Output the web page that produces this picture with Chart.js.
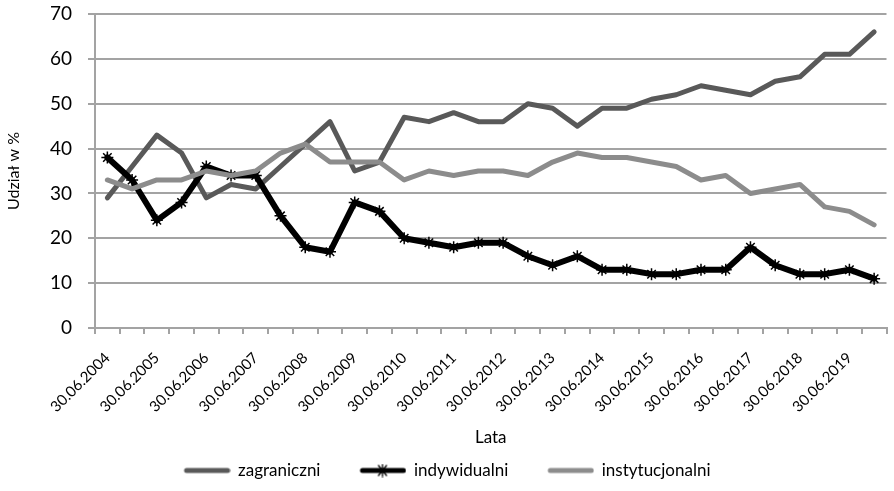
<!DOCTYPE html>
<html>
<head>
<meta charset="utf-8">
<script src="https://cdn.jsdelivr.net/npm/chart.js@4.4.1/dist/chart.umd.min.js"></script>
<style>
html, body { margin: 0; padding: 0; background: #fff; }
#wrap { width: 894px; height: 491px; position: relative; }
</style>
</head>
<body>
<div id="wrap"><canvas id="chart"></canvas></div>
<script>
// categories (half-yearly), only 30.06 labels are shown on the axis
const dates = [
  '30.06.2004', '31.12.2004', '30.06.2005', '31.12.2005', '30.06.2006', '31.12.2006',
  '30.06.2007', '31.12.2007', '30.06.2008', '31.12.2008', '30.06.2009', '31.12.2009',
  '30.06.2010', '31.12.2010', '30.06.2011', '31.12.2011', '30.06.2012', '31.12.2012',
  '30.06.2013', '31.12.2013', '30.06.2014', '31.12.2014', '30.06.2015', '31.12.2015',
  '30.06.2016', '31.12.2016', '30.06.2017', '31.12.2017', '30.06.2018', '31.12.2018',
  '30.06.2019', '31.12.2019'
];

const zagraniczni = [29, 36, 43, 39, 29, 32, 31, 36, 41, 46, 35, 37, 47, 46, 48, 46,
  46, 50, 49, 45, 49, 49, 51, 52, 54, 53, 52, 55, 56, 61, 61, 66];
const indywidualni = [38, 33, 24, 28, 36, 34, 34, 25, 18, 17, 28, 26, 20, 19, 18, 19,
  19, 16, 14, 16, 13, 13, 12, 12, 13, 13, 18, 14, 12, 12, 13, 11];
const instytucjonalni = [33, 31, 33, 33, 35, 34, 35, 39, 41, 37, 37, 37, 33, 35, 34, 35,
  35, 34, 37, 39, 38, 38, 37, 36, 33, 34, 30, 31, 32, 27, 26, 23];

const yTicks = [0, 10, 20, 30, 40, 50, 60, 70];

const FONT = 'Lato';
const gridColor = '#a3a3a3';

// legend pictures: thick line, optional star marker
function legendImg(color, marker) {
  const c = document.createElement('canvas');
  c.width = 48; c.height = 14;
  const g = c.getContext('2d');
  g.strokeStyle = color;
  g.lineWidth = 5;
  g.lineCap = 'round';
  g.beginPath(); g.moveTo(4, 7); g.lineTo(45, 7); g.stroke();
  if (marker) {
    g.strokeStyle = '#000';
    g.lineWidth = 1.3;
    g.beginPath();
    g.moveTo(20, 2); g.lineTo(28, 12);
    g.moveTo(28, 2); g.lineTo(20, 12);
    g.moveTo(24, 1); g.lineTo(24, 13);
    g.stroke();
  }
  return c;
}
const legendPics = [legendImg('#595959', false), legendImg('#000', true), legendImg('#8c8c8c', false)];

const ctx = document.getElementById('chart').getContext('2d');
new Chart(ctx, {
  type: 'line',
  data: {
    labels: dates,
    datasets: [{
      label: 'zagraniczni',
      data: zagraniczni,
      borderColor: '#595959',
      backgroundColor: '#595959',
      borderWidth: 5,
      pointRadius: 0,
      order: 3
    }, {
      label: 'indywidualni',
      data: indywidualni,
      borderColor: '#000',
      backgroundColor: '#000',
      borderWidth: 6,
      pointStyle: 'star',
      pointRadius: 6,
      pointBorderWidth: 1.5,
      pointBorderColor: '#000',
      order: 2
    }, {
      label: 'instytucjonalni',
      data: instytucjonalni,
      borderColor: '#8c8c8c',
      backgroundColor: '#8c8c8c',
      borderWidth: 5,
      pointRadius: 0,
      order: 1
    }]
  },
  options: {
    responsive: true,
    maintainAspectRatio: false,
    animation: false,
    layout: { padding: { top: 14, right: 0, left: 0, bottom: 2 } },
    elements: {
      line: { tension: 0, borderJoinStyle: 'round', borderCapStyle: 'round' }
    },
    plugins: {
      tooltip: { enabled: false },
      legend: {
        position: 'bottom',
        labels: {
          usePointStyle: true,
          pointStyleWidth: 46,
          boxHeight: 14,
          padding: 39,
          color: '#000',
          font: { family: FONT, size: 17 },
          sort: (a, b) => a.datasetIndex - b.datasetIndex,
          generateLabels: chart => {
            const items = Chart.defaults.plugins.legend.labels.generateLabels(chart);
            items.forEach(it => { it.pointStyle = legendPics[it.datasetIndex]; });
            return items;
          }
        }
      }
    },
    scales: {
      x: {
        offset: true,
        grid: { drawOnChartArea: false, offset: true, tickLength: 6, color: gridColor, lineWidth: 2 },
        border: { color: gridColor, width: 2 },
        ticks: {
          autoSkip: false,
          minRotation: 45,
          maxRotation: 45,
          padding: 15,
          color: '#000',
          font: { family: FONT, size: 15 },
          callback: (v, i) => (i % 2 === 0 ? dates[i] : '')
        },
        title: {
          display: true,
          text: 'Lata',
          color: '#000',
          font: { family: FONT, size: 17 },
          // the legend's tall padding eats the room below, so the title sits a bit past the scale box
          padding: { top: 4, bottom: -25 }
        },
        afterFit: s => { s.height = 95; s.paddingLeft = 0; s.paddingRight = 0; }
      },
      y: {
        min: 0,
        max: 70,
        afterBuildTicks: s => { s.ticks = yTicks.map(v => ({ value: v })); },
        grid: { color: gridColor, lineWidth: 2, tickLength: 7 },
        border: { color: gridColor, width: 2 },
        ticks: {
          padding: 16,
          color: '#000',
          font: { family: FONT, size: 19 }
        },
        title: {
          display: true,
          text: 'Udział w %',
          color: '#000',
          font: { family: FONT, size: 16 },
          padding: { top: 4, bottom: 0 }
        },
        afterFit: s => { s.width = 95; s.paddingTop = 0; s.paddingBottom = 0; }
      }
    }
  }
});
</script>
</body>
</html>
